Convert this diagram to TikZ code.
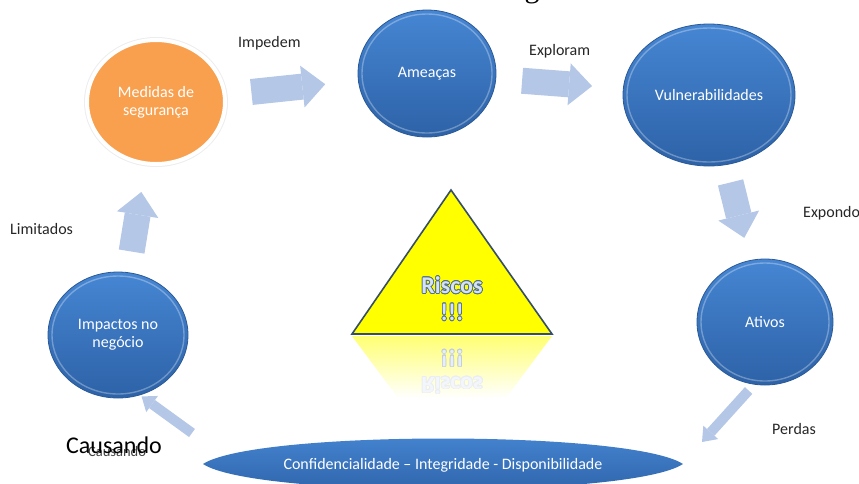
\documentclass[tikz,border=0pt]{standalone}
\usepackage{fontspec}
\setmainfont{Carlito}
\newfontfamily\serifg{Liberation Serif}
\usepackage{contour}
\usetikzlibrary{arrows.meta,shapes.geometric,calc}
\definecolor{azulc}{HTML}{4686D3}
\definecolor{azule}{HTML}{2D62A7}
\definecolor{azulb}{HTML}{2B5995}
\definecolor{laranjac}{HTML}{F9A04E}
\definecolor{setacor}{HTML}{B4C7E7}
\definecolor{amarelo}{HTML}{FFFF00}
\definecolor{riscoborda}{HTML}{4F6F93}
\definecolor{riscotexto}{HTML}{D6E2EF}
\newcommand\rotulo{\fontsize{16}{18}\selectfont}
\contourlength{0.7pt}
\tikzset{
  bola/.style={ellipse,inner sep=0pt,top color=azulc,bottom color=azule,draw=azulb,line width=0.8pt,
    text=white,font=\rotulo,align=center,
    path picture={\draw[white,opacity=0.3,line width=1.4pt]
      let \p1=(path picture bounding box.north east),\p2=(path picture bounding box.center) in
      (\p2) ellipse [x radius={\x1-\x2-4pt},y radius={\y1-\y2-4pt}];}},
  bolalaranja/.style={ellipse,inner sep=0pt,fill=laranjac,draw=white,line width=4pt,
    preaction={draw=black!7,line width=6pt},text=white,font=\rotulo,align=center},
  seta/.style={draw=setacor,line width=26pt,-{Triangle[width=42pt,length=23pt,line width=0pt]}},
  setafina/.style={draw=setacor,line width=10pt,-{Triangle[width=20pt,length=13pt,line width=0pt]}},
  verbo/.style={anchor=base west,font=\rotulo,text=black!85,inner sep=0pt},
  triangulo/.style={fill=amarelo,draw=riscoborda!70!black,line width=1.6pt,line join=miter},
}
\begin{document}
\begin{tikzpicture}[x=1pt,y=-1pt]
  \useasboundingbox (0,0) rectangle (859,483);
  \clip (0,0) rectangle (859,483);
  % ===== Reste des Titels oben =====
  \node[anchor=base,inner sep=0pt,font=\serifg\fontsize{30}{30}\selectfont] (tit) at (532,-3) {g};
  % ===== Kreise =====
  \node[bolalaranja,minimum width=138pt,minimum height=124pt] (med) at (156,102) {Medidas de\\segurança};
  \node[bola,minimum width=138pt,minimum height=127pt] (ame) at (427,73.5) {Ameaças};
  \node[bola,minimum width=172pt,minimum height=142pt] (vul) at (709,95) {Vulnerabilidades};
  \node[bola,minimum width=136pt,minimum height=126pt] (ati) at (765,322) {Ativos};
  \node[bola,minimum width=140pt,minimum height=126pt] (imp) at (118,335) {Impactos no\\negócio};
  % ===== Linse unten =====
  \shade[top color=azulc,bottom color=azule] (203,464) .. controls (255,430) and (631,430) .. (683,464)
    .. controls (631,498) and (255,498) .. (203,464) -- cycle;
  \node[text=white,font=\rotulo,inner sep=0pt] (cid) at (443,465) {Confidencialidade -- Integridade - Disponibilidade};
  % ===== Pfeile =====
  \draw[seta,shorten <=25pt,shorten >=33pt] (med) -- (ame);
  \draw[seta,shorten <=26pt,shorten >=31pt] (ame) -- (vul);
  \draw[seta,shorten <=18pt,shorten >=23pt] (vul) -- (ati);
  \draw[seta,shorten <=21pt,shorten >=27pt] (imp) -- (med);
  \coordinate (perdasfim) at (702,442);
  \coordinate (causaini) at (192,433);
  \draw[setafina,shorten <=8pt] (ati.-100) -- (perdasfim);
  \draw[setafina,shorten >=2pt] (causaini) -- (imp.-70);
  % ===== Beschriftungen =====
  \node[verbo] (impedem) at (238,47) {Impedem};
  \node[verbo] (exploram) at (529,55) {Exploram};
  \node[verbo] (expondo) at (803,217) {Expondo};
  \node[verbo] (limitados) at (10,234) {Limitados};
  \node[verbo] (perdas) at (772,434) {Perdas};
  \node[verbo,text=black!75,font=\fontsize{14.5}{16}\selectfont] (causa2) at (88,456) {Causando};
  \node[verbo,text=black,font=\fontsize{24}{26}\selectfont] (causa) at (66,453) {Causando};
  % ===== Dreieck mit Spiegelung =====
  \shade[top color=amarelo!55,bottom color=white] (352,336) -- (552,336) -- (506,398) -- (398,398) -- cycle;
  \draw[triangulo] (451,190) -- (552,334) -- (352,334) -- cycle;
  \node[align=center,inner sep=0pt,text=riscotexto,font=\bfseries\fontsize{24}{27}\selectfont] (risco) at (452,299)
    {\contour{riscoborda}{Riscos}\\\contour{riscoborda}{!!!}};
  \node[anchor=base,yscale=-1,inner sep=0pt,text=riscotexto!60!white,font=\bfseries\fontsize{24}{27}\selectfont] (espelho1) at (452,350)
    {\contour{riscoborda!35!white}{!!!}};
  \node[anchor=base,yscale=-1,inner sep=0pt,text=riscotexto!30!white,font=\bfseries\fontsize{24}{27}\selectfont] (espelho2) at (452,377)
    {\contour{riscoborda!12!white}{Riscos}};
\end{tikzpicture}
\end{document}
